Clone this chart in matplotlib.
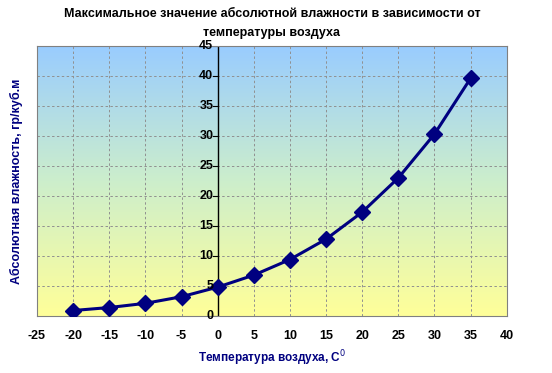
import matplotlib
matplotlib.use('Agg')
import matplotlib.pyplot as plt
from matplotlib.colors import LinearSegmentedColormap
import numpy as np

temps = [-20, -15, -10, -5, 0, 5, 10, 15, 20, 25, 30, 35]
humidity = [0.9, 1.4, 2.1, 3.2, 4.8, 6.8, 9.4, 12.8, 17.3, 23.0, 30.3, 39.6]
x_ticks = list(range(-25, 41, 5))
y_ticks = list(range(0, 46, 5))

plt.rcParams['font.family'] = ['Liberation Sans', 'DejaVu Sans']
plt.rcParams['axes.unicode_minus'] = False

fig = plt.figure(figsize=(5.52, 3.73), dpi=100)
ax = fig.add_axes([0.067, 0.153, 0.851, 0.724])

cmap = LinearSegmentedColormap.from_list('bg', ['#FFFF99', '#CCEECC', '#99CCFF'])
grad = np.linspace(0, 1, 256).reshape(-1, 1)
ax.imshow(grad, cmap=cmap, aspect='auto', origin='lower',
          extent=[-25, 40, 0, 45], zorder=0)

ax.set_xlim(-25, 40)
ax.set_ylim(0, 45)
ax.set_xticks(x_ticks)
ax.set_yticks(y_ticks)
ax.grid(True, linestyle=(0, (2.5, 2.5)), color='#909090', linewidth=0.7, zorder=1)

ax.plot(temps, humidity, color='#000080', linewidth=2.2, marker='D',
        markersize=8, zorder=3)

ax.axvline(0, color='black', linewidth=1, zorder=2)
for s in ax.spines.values():
    s.set_color('#808080')

# y tick labels next to the x=0 axis
ax.tick_params(axis='y', length=0, labelleft=False)
for v in y_ticks:
    ax.text(-0.6, v, str(v), ha='right', va='center', fontsize=9,
            fontweight='bold', zorder=4)
    ax.plot([-0.6, 0], [v, v], color='black', linewidth=0.8, zorder=2)

ax.tick_params(axis='x', length=0, pad=10, labelsize=9)
for lab in ax.get_xticklabels():
    lab.set_fontweight('bold')

ax.set_xlabel('Температура воздуха, С$^0$', fontsize=8.5, fontweight='bold',
              color='#000080', labelpad=5)
ax.set_ylabel('Абсолютная влажность, гр/куб.м', fontsize=9, fontweight='bold',
              color='#000080', labelpad=10)
ax.set_title('Максимальное значение абсолютной влажности в зависимости от\nтемпературы воздуха',
             fontsize=9, fontweight='bold', pad=7, linespacing=1.75)

fig.savefig('out.png', dpi=100)
